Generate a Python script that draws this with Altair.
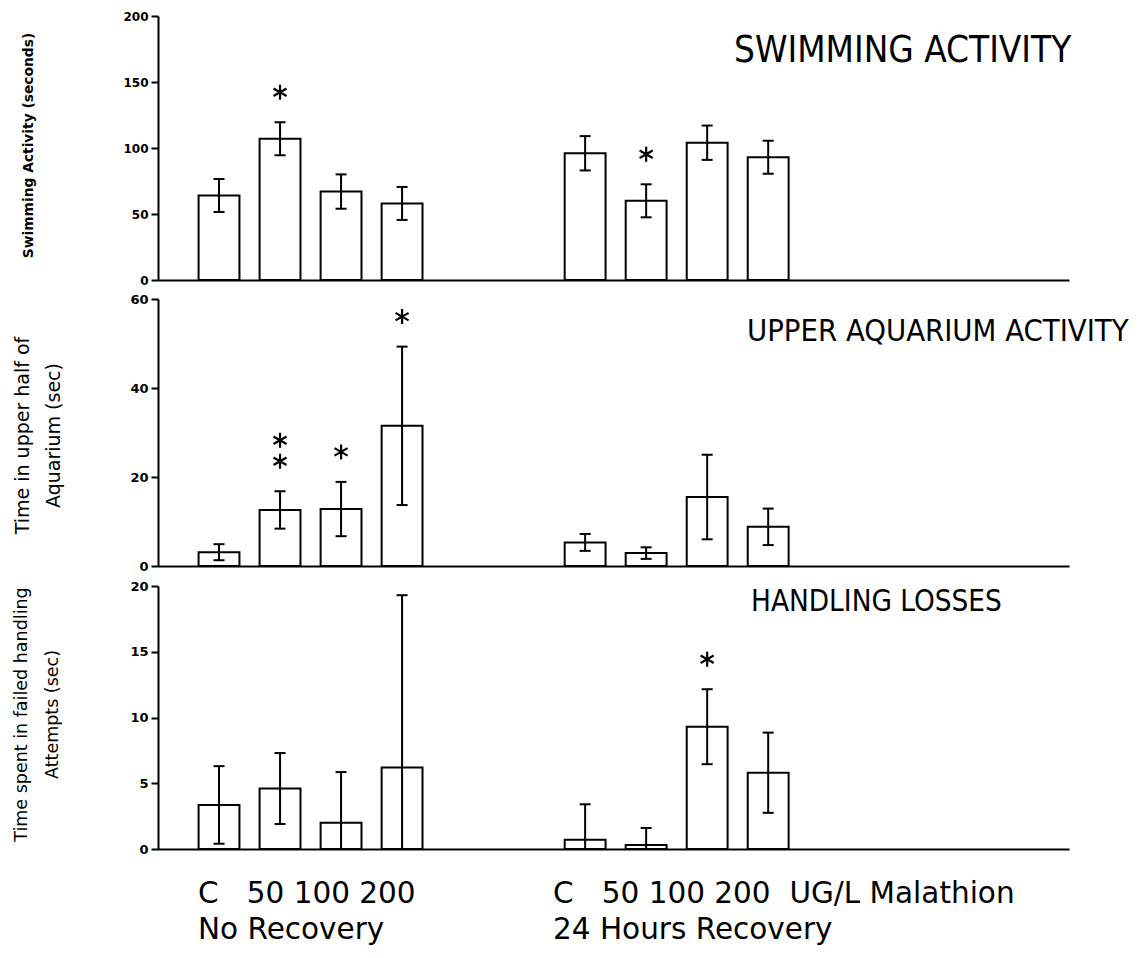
import altair as alt
import pandas as pd

# ---------------- data ----------------
groups = ["No Recovery", "24 Hours Recovery"]
doses = ["C", "50", "100", "200"]
dose_unit = "UG/L Malathion"

panel_titles = ["SWIMMING ACTIVITY", "UPPER AQUARIUM ACTIVITY", "HANDLING LOSSES"]
y_titles = [
    "Swimming Activity (seconds)",
    ["Time in upper half of", "Aquarium (sec)"],
    ["Time spent in failed handling", "Attempts (sec)"],
]
y_ticks_swim = [0, 50, 100, 150, 200]
y_ticks_upper = [0, 20, 40, 60]
y_ticks_handling = [0, 5, 10, 15, 20]

# order: No Recovery C,50,100,200 then 24 Hours Recovery C,50,100,200
swim_mean = [64, 107, 67, 58, 96, 60, 104, 93]
swim_se = [12.5, 12.5, 13, 12.5, 13, 12.5, 13, 12.5]
swim_sig = [0, 1, 0, 0, 0, 1, 0, 0]

upper_mean = [3.1, 12.6, 12.8, 31.5, 5.3, 2.9, 15.5, 8.8]
upper_se = [1.8, 4.2, 6.1, 17.8, 1.9, 1.3, 9.5, 4.1]
upper_sig = [0, 2, 1, 1, 0, 0, 0, 0]

handling_mean = [3.35, 4.6, 2.0, 6.2, 0.7, 0.3, 9.3, 5.8]
handling_se = [2.95, 2.7, 3.85, 13.1, 2.7, 1.3, 2.85, 3.05]
handling_sig = [0, 0, 0, 0, 0, 0, 1, 0]

# ---------------- layout / style ----------------
W = 911
GROUP_STEP = 6
HALF_BAR = 0.335
XSCALE = alt.Scale(domain=[-1, 13.93], nice=False, zero=False)
ASTERISK = "M0,-1L0,1M-0.87,-0.5L0.87,0.5M-0.87,0.5L0.87,-0.5"
TITLE_FONT = "Liberation Sans Narrow, DejaVu Sans Condensed, Liberation Sans"
NBSP = "\u00a0"


def build_df(mean, se, sig):
    rows = []
    for gi, g in enumerate(groups):
        for di, d in enumerate(doses):
            i = gi * len(doses) + di
            pos = gi * GROUP_STEP + di
            m, s = mean[i], se[i]
            rows.append(dict(group=g, dose=d, pos=pos, left=pos - HALF_BAR,
                             right=pos + HALF_BAR, mean=m, zero=0, hi=m + s,
                             lo=max(m - s, 0), lo_cap=(m - s) > 0, sig=sig[i]))
    return pd.DataFrame(rows)


def panel(mean, se, sig, ymax, ticks, title, ytitle, h, tick_fs, ytitle_fs,
          ytitle_weight, ytitle_x, ytitle_y, title_x, title_y, title_fs,
          extra=None):
    df = build_df(mean, se, sig)
    base = alt.Chart(df)
    yscale = alt.Scale(domain=[0, ymax], nice=False)
    yaxis = alt.Axis(values=ticks, title=ytitle, grid=False, domainColor="black",
                     domainWidth=2, tickColor="black", tickWidth=2, tickSize=7,
                     labelFont="DejaVu Sans", labelFontWeight="bold",
                     labelFontSize=tick_fs, labelColor="black", labelPadding=3,
                     titleFont="DejaVu Sans", titleFontSize=ytitle_fs,
                     titleFontWeight=ytitle_weight, titleColor="black",
                     titleAngle=270, titleX=ytitle_x, titleY=ytitle_y,
                     titleAlign="center", titleBaseline="top",
                     titleLineHeight=31)
    xaxis = alt.Axis(labels=False, ticks=False, grid=False, title=None,
                     domainColor="black", domainWidth=2)

    def X(f):
        return alt.X(f, scale=XSCALE, axis=xaxis, title=None)

    def Y(f):
        return alt.Y(f, scale=yscale, axis=yaxis, title=ytitle)

    bars = base.mark_bar(fill="white", stroke="black", strokeWidth=2).encode(
        x=X("left:Q"), x2="right:Q", y=Y("mean:Q"), y2="zero:Q",
    )
    rules = base.mark_rule(color="black", strokeWidth=2).encode(
        x=X("pos:Q"), y=Y("lo:Q"), y2="hi:Q",
    )
    caps_hi = base.mark_tick(orient="horizontal", size=11, thickness=2,
                             color="black", opacity=1).encode(
        x=X("pos:Q"), y=Y("hi:Q"),
    )
    caps_lo = base.transform_filter("datum.lo_cap").mark_tick(
        orient="horizontal", size=11, thickness=2, color="black", opacity=1
    ).encode(x=X("pos:Q"), y=Y("lo:Q"))
    star1 = base.transform_filter("datum.sig >= 1").mark_point(
        shape=ASTERISK, size=225, filled=False, strokeWidth=2.2, color="black",
        opacity=1, yOffset=-30
    ).encode(x=X("pos:Q"), y=Y("hi:Q"))
    star2 = base.transform_filter("datum.sig >= 2").mark_point(
        shape=ASTERISK, size=225, filled=False, strokeWidth=2.2, color="black",
        opacity=1, yOffset=-51
    ).encode(x=X("pos:Q"), y=Y("hi:Q"))
    ttl = alt.Chart(pd.DataFrame({"t": [title]})).mark_text(
        font=TITLE_FONT, fontSize=title_fs, align="left", baseline="alphabetic",
        color="black"
    ).encode(x=alt.value(title_x), y=alt.value(title_y), text="t:N")
    layers = [bars, rules, caps_hi, caps_lo, star1, star2, ttl]
    if extra:
        layers += extra
    return alt.layer(*layers).properties(width=W, height=h)


# bottom category labels
lab_font = "DejaVu Sans"
lab_fs = 29.5
line1_left = (NBSP * 3).join([doses[0], " ".join(doses[1:])])
line1_right = line1_left + NBSP * 2 + dose_unit


def label(txt, x, y):
    return alt.Chart(pd.DataFrame({"t": [txt]})).mark_text(
        font=lab_font, fontSize=lab_fs, align="left", baseline="alphabetic",
        color="black"
    ).encode(x=alt.value(x), y=alt.value(y), text="t:N")


bottom_labels = [
    label(line1_left, 40, 317),
    label(groups[0], 40, 353),
    label(line1_right, 395, 317),
    label(groups[1], 395, 353),
]

top = panel(swim_mean, swim_se, swim_sig, 200, y_ticks_swim, panel_titles[0],
            y_titles[0], 264, 12, 13.8, "bold", -137, 129, 576, 46, 36.6)
mid = panel(upper_mean, upper_se, upper_sig, 60, y_ticks_upper, panel_titles[1],
            y_titles[1], 267, 13, 19, "normal", -145, 136, 589, 42, 30.7)
bot = panel(handling_mean, handling_se, handling_sig, 20, y_ticks_handling,
            panel_titles[2], y_titles[2], 263, 13, 17.5, "normal", -146, 128,
            593, 25, 29.4, extra=bottom_labels)

chart = alt.vconcat(top, mid, bot, spacing=7).properties(
    padding={"left": 4, "top": 2, "right": 5, "bottom": 5},
    background="white",
).configure_view(stroke=None)

chart.save("out.html", embed_options={"renderer": "svg", "actions": False})
